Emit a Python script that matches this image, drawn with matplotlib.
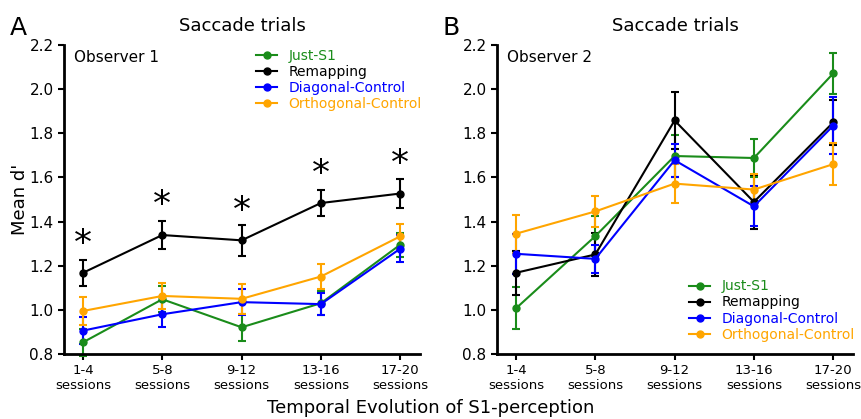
import matplotlib
matplotlib.use("Agg")
import matplotlib.pyplot as plt
from matplotlib.lines import Line2D
import numpy as np

categories = ["1-4\nsessions", "5-8\nsessions", "9-12\nsessions", "13-16\nsessions", "17-20\nsessions"]
series_names = ["Just-S1", "Remapping", "Diagonal-Control", "Orthogonal-Control"]
colors = ["#1a8c1a", "#000000", "#0000ff", "#ffa500"]

# Observer 1
obs1_just = [0.853, 1.048, 0.921, 1.030, 1.295]
obs1_just_err = [0.06, 0.058, 0.062, 0.055, 0.055]
obs1_remap = [1.168, 1.339, 1.315, 1.484, 1.527]
obs1_remap_err = [0.06, 0.062, 0.071, 0.06, 0.065]
obs1_diag = [0.906, 0.980, 1.035, 1.026, 1.277]
obs1_diag_err = [0.06, 0.058, 0.06, 0.05, 0.06]
obs1_orth = [0.995, 1.063, 1.050, 1.151, 1.333]
obs1_orth_err = [0.062, 0.06, 0.068, 0.055, 0.058]
obs1_star_y = [1.322, 1.50, 1.473, 1.64, 1.685]

# Observer 2
obs2_just = [1.007, 1.334, 1.697, 1.688, 2.071]
obs2_just_err = [0.095, 0.09, 0.095, 0.085, 0.092]
obs2_remap = [1.168, 1.251, 1.858, 1.489, 1.849]
obs2_remap_err = [0.1, 0.096, 0.127, 0.122, 0.1]
obs2_diag = [1.254, 1.231, 1.678, 1.469, 1.834]
obs2_diag_err = [0.09, 0.065, 0.075, 0.09, 0.13]
obs2_orth = [1.345, 1.446, 1.572, 1.545, 1.660]
obs2_orth_err = [0.087, 0.072, 0.09, 0.07, 0.095]

yticks = [0.8, 1.0, 1.2, 1.4, 1.6, 1.8, 2.0, 2.2]

fig = plt.figure(figsize=(8.62, 4.19), dpi=100)
W, H = 862, 419
axA = fig.add_axes([64 / W, 1 - 354 / H, (420 - 64) / W, (354 - 45) / H])
axB = fig.add_axes([497 / W, 1 - 354 / H, (853 - 497) / W, (354 - 45) / H])

x = np.arange(len(categories))

def draw(ax, data, title, observer, legend_loc, legend_anchor):
    handles = []
    for (vals, errs), name, c in zip(data, series_names, colors):
        ax.errorbar(x, vals, yerr=errs, color=c, marker="o", markersize=5,
                    linewidth=1.5, elinewidth=1.5, capsize=3, capthick=1.5,
                    clip_on=False)
        handles.append(Line2D([], [], color=c, marker="o", markersize=5,
                              linewidth=1.5, label=name))
    ax.set_xlim(-0.24, 4.25)
    ax.set_ylim(0.8, 2.2)
    ax.set_yticks(yticks)
    ax.set_yticklabels([f"{v:.1f}" for v in yticks])
    ax.set_xticks(x)
    ax.set_xticklabels(categories)
    for s in ["top", "right"]:
        ax.spines[s].set_visible(False)
    for s in ["left", "bottom"]:
        ax.spines[s].set_linewidth(2)
    ax.tick_params(axis="both", direction="out", width=1.5, length=4, labelsize=11)
    ax.tick_params(axis="x", labelsize=9.5)
    ax.set_title(title, fontsize=13, pad=10)
    ax.text(0.028, 0.985, observer, transform=ax.transAxes, fontsize=11, va="top", ha="left")
    leg = ax.legend(handles=handles, loc=legend_loc, bbox_to_anchor=legend_anchor,
                    frameon=False, fontsize=10, handlelength=1.5, handletextpad=0.8,
                    labelspacing=0.15, borderaxespad=0)
    for t, c in zip(leg.get_texts(), colors):
        t.set_color(c)

draw(axA, [(obs1_just, obs1_just_err), (obs1_remap, obs1_remap_err),
           (obs1_diag, obs1_diag_err), (obs1_orth, obs1_orth_err)],
     "Saccade trials", "Observer 1", "upper left", (0.525, 1.005))
draw(axB, [(obs2_just, obs2_just_err), (obs2_remap, obs2_remap_err),
           (obs2_diag, obs2_diag_err), (obs2_orth, obs2_orth_err)],
     "Saccade trials", "Observer 2", "lower left", (0.525, 0.022))

for xi, yi in zip(x, obs1_star_y):
    axA.annotate("*", xy=(xi, yi), xytext=(0, -4), textcoords="offset points",
                 fontsize=26, ha="center", va="center")

axA.set_ylabel("Mean d'", fontsize=13, labelpad=0)
fig.text(10 / W, 1 - 28 / H, "A", fontsize=18, va="center", ha="left")
fig.text(443 / W, 1 - 28 / H, "B", fontsize=18, va="center", ha="left")
fig.text(431 / W, 1 - 408 / H, "Temporal Evolution of S1-perception", fontsize=13,
         ha="center", va="center")

fig.savefig("out.png", dpi=100)
